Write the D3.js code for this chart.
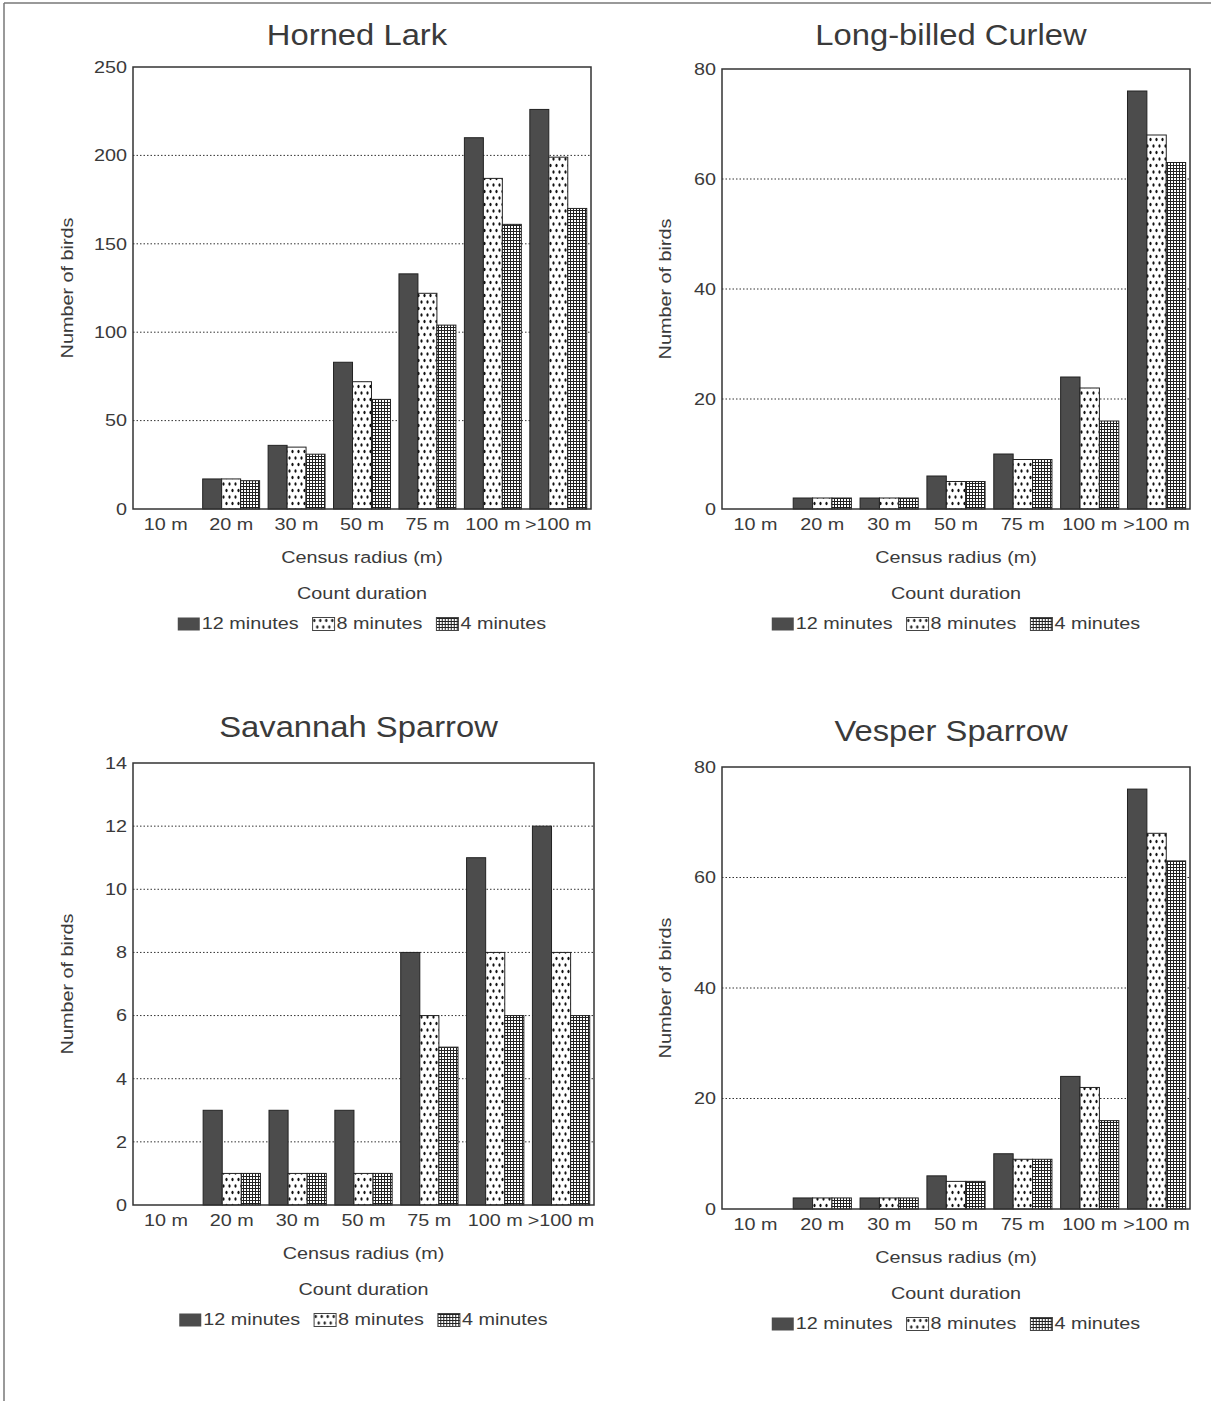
<!DOCTYPE html>
<html>
<head>
<meta charset="utf-8">
<script src="https://d3js.org/d3.v7.min.js"></script>
<style>
  body { margin: 0; background: #fff; }
  svg text { font-family: "Liberation Sans", Arial, sans-serif; fill: #3a3a3a; }
</style>
</head>
<body>
<svg id="chart" width="1211" height="1401"></svg>
<script>
// categories and series
const radii = ["10 m", "20 m", "30 m", "50 m", "75 m", "100 m", ">100 m"];
const durations = ["12 minutes", "8 minutes", "4 minutes"];

const hornedLark12 = [0, 17, 36, 83, 133, 210, 226];
const hornedLark8  = [0, 17, 35, 72, 122, 187, 199];
const hornedLark4  = [0, 16, 31, 62, 104, 161, 170];

const curlew12 = [0, 2, 2, 6, 10, 24, 76];
const curlew8  = [0, 2, 2, 5, 9, 22, 68];
const curlew4  = [0, 2, 2, 5, 9, 16, 63];

const savannah12 = [0, 3, 3, 3, 8, 11, 12];
const savannah8  = [0, 1, 1, 1, 6, 8, 8];
const savannah4  = [0, 1, 1, 1, 5, 6, 6];

const vesper12 = [0, 2, 2, 6, 10, 24, 76];
const vesper8  = [0, 2, 2, 5, 9, 22, 68];
const vesper4  = [0, 2, 2, 5, 9, 16, 63];

const hornedLarkTicks = [0, 50, 100, 150, 200, 250];
const curlewTicks = [0, 20, 40, 60, 80];
const savannahTicks = [0, 2, 4, 6, 8, 10, 12, 14];
const vesperTicks = [0, 20, 40, 60, 80];

// layout of the four panels
const panels = [
  {title: "Horned Lark", series: [hornedLark12, hornedLark8, hornedLark4], ticks: hornedLarkTicks,
   x0: 133, x1: 591, y0: 67, y1: 509, titleDy: -32, labX: -65},
  {title: "Long-billed Curlew", series: [curlew12, curlew8, curlew4], ticks: curlewTicks,
   x0: 722, x1: 1190, y0: 69, y1: 509, titleDy: -34, labX: -56},
  {title: "Savannah Sparrow", series: [savannah12, savannah8, savannah4], ticks: savannahTicks,
   x0: 133, x1: 594, y0: 763, y1: 1205, titleDy: -36, labX: -65},
  {title: "Vesper Sparrow", series: [vesper12, vesper8, vesper4], ticks: vesperTicks,
   x0: 722, x1: 1190, y0: 767, y1: 1209, titleDy: -36, labX: -56}
];

const SX = 1.2;      // the scanned lettering is wide
const FS = 16.5;

const svg = d3.select("#chart");
const defs = svg.append("defs");

// fills: dark, dotted, fine grid
const fills = ["#4c4c4c", "url(#dots)", "url(#grid)"];

const dots = defs.append("pattern").attr("id", "dots").attr("patternUnits", "userSpaceOnUse")
  .attr("width", 6).attr("height", 13);
dots.append("rect").attr("width", 6).attr("height", 13).attr("fill", "#fff");
dots.append("ellipse").attr("cx", 1.5).attr("cy", 3).attr("rx", 1.1).attr("ry", 1.8).attr("fill", "#111");
dots.append("ellipse").attr("cx", 4.5).attr("cy", 9.5).attr("rx", 1.1).attr("ry", 1.8).attr("fill", "#111");

const grid = defs.append("pattern").attr("id", "grid").attr("patternUnits", "userSpaceOnUse")
  .attr("width", 3).attr("height", 3);
grid.append("rect").attr("width", 3).attr("height", 3).attr("fill", "#fff");
grid.append("rect").attr("width", 3).attr("height", 1).attr("fill", "#222");
grid.append("rect").attr("width", 1).attr("height", 3).attr("fill", "#222");

// page border (left and top)
svg.append("line").attr("x1", 4).attr("y1", 3).attr("x2", 1211).attr("y2", 3)
  .attr("stroke", "#777").attr("stroke-width", 1.5);
svg.append("line").attr("x1", 4).attr("y1", 3).attr("x2", 4).attr("y2", 1401)
  .attr("stroke", "#777").attr("stroke-width", 1.5);

function addText(parent, x, y, str, size, sx, rot) {
  const g = parent.append("g").attr("transform", `translate(${x},${y}) rotate(${rot || 0})`);
  return g.append("text")
    .attr("transform", `scale(${sx},1)`)
    .attr("text-anchor", "middle")
    .attr("dominant-baseline", "central")
    .style("font-size", size + "px")
    .text(str);
}

panels.forEach(p => {
  const g = svg.append("g");
  const maxY = d3.max(p.ticks);

  const x = d3.scaleBand().domain(radii).range([p.x0, p.x1]).paddingInner(0.13).paddingOuter(0.065);
  const xs = d3.scaleBand().domain(durations).range([0, x.bandwidth()]);
  const y = d3.scaleLinear().domain([0, maxY]).range([p.y1, p.y0]);

  // dotted gridlines
  g.selectAll("line.grid")
    .data(p.ticks.filter(t => t > 0 && t < maxY))
    .join("line")
    .attr("class", "grid")
    .attr("x1", p.x0).attr("x2", p.x1)
    .attr("y1", d => y(d)).attr("y2", d => y(d))
    .attr("stroke", "#333").attr("stroke-width", 1)
    .attr("stroke-dasharray", "1.5,2");

  // bars
  const rows = [];
  p.series.forEach((vals, si) => {
    vals.forEach((v, ci) => rows.push({cat: radii[ci], dur: durations[si], si: si, v: v}));
  });
  g.selectAll("rect.bar")
    .data(rows.filter(d => d.v > 0))
    .join("rect")
    .attr("class", "bar")
    .attr("x", d => x(d.cat) + xs(d.dur))
    .attr("width", xs.bandwidth())
    .attr("y", d => y(d.v))
    .attr("height", d => y(0) - y(d.v))
    .attr("fill", d => fills[d.si])
    .attr("stroke", "#222").attr("stroke-width", 1);

  // frame
  g.append("rect")
    .attr("x", p.x0).attr("y", p.y0)
    .attr("width", p.x1 - p.x0).attr("height", p.y1 - p.y0)
    .attr("fill", "none").attr("stroke", "#333").attr("stroke-width", 1.5);

  // y axis
  const yAxis = g.append("g").attr("transform", `translate(${p.x0},0)`)
    .call(d3.axisLeft(y).tickValues(p.ticks).tickSize(0).tickPadding(5));
  yAxis.select(".domain").remove();
  yAxis.selectAll("text")
    .style("font-size", FS + "px")
    .attr("font-family", null)
    .attr("transform", `scale(${SX},1)`);

  // x axis labels
  const xAxis = g.append("g").attr("transform", `translate(0,${p.y1})`)
    .call(d3.axisBottom(x).tickSize(0).tickPadding(9));
  xAxis.select(".domain").remove();
  xAxis.selectAll(".tick text")
    .style("font-size", FS + "px")
    .attr("font-family", null)
    .attr("text-anchor", "middle")
    .attr("transform", `scale(${SX},1)`);

  const cx = (p.x0 + p.x1) / 2;
  addText(g, cx - 5, p.y0 + p.titleDy, p.title, 29, 1.13);
  addText(g, p.x0 + p.labX, (p.y0 + p.y1) / 2, "Number of birds", FS, SX, -90);
  addText(g, cx, p.y1 + 49, "Census radius (m)", FS, SX);
  addText(g, cx, p.y1 + 85, "Count duration", FS, SX);

  // legend
  const leg = g.append("g");
  let lx = 0;
  durations.forEach((d, i) => {
    leg.append("rect").attr("x", lx).attr("y", -6.5).attr("width", 22).attr("height", 13)
      .attr("fill", fills[i]).attr("stroke", i === 0 ? "none" : "#444").attr("stroke-width", 1);
    lx += 24;
    const t = leg.append("text")
      .attr("transform", `translate(${lx},0) scale(${SX},1)`)
      .attr("dominant-baseline", "central")
      .style("font-size", FS + "px")
      .text(d);
    lx += t.node().getComputedTextLength() * SX + 14;
  });
  lx -= 14;
  leg.attr("transform", `translate(${cx - lx / 2},${p.y1 + 115})`);
});
</script>
</body>
</html>
